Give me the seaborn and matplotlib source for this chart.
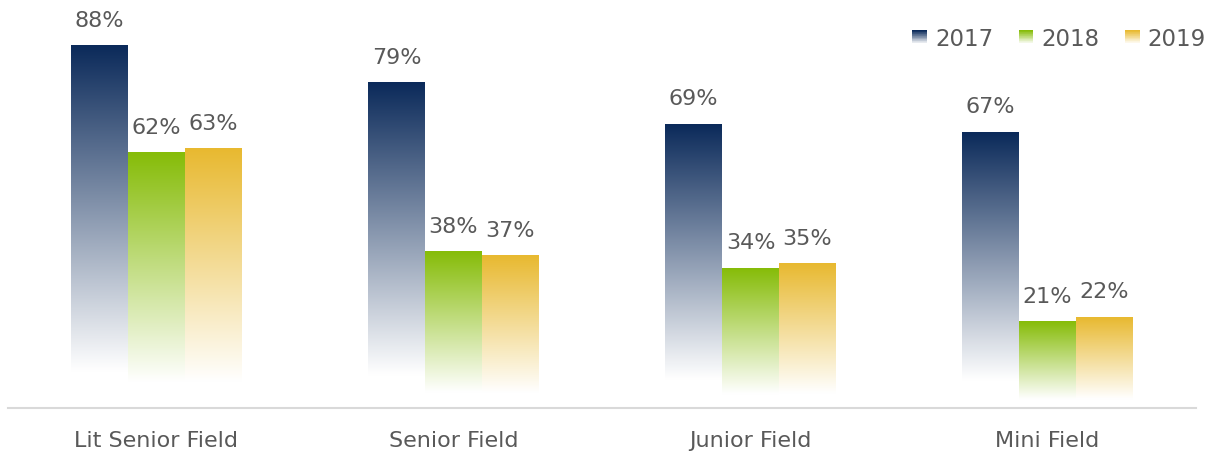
import numpy as np
import pandas as pd
import matplotlib
matplotlib.use("Agg")
import matplotlib.pyplot as plt
import seaborn as sns
from matplotlib.patches import Rectangle
from matplotlib.legend_handler import HandlerBase
from matplotlib.colors import to_rgb

categories = ["Lit Senior Field", "Senior Field", "Junior Field", "Mini Field"]
years = ["2017", "2018", "2019"]
values_2017 = [88, 79, 69, 67]
values_2018 = [62, 38, 34, 21]
values_2019 = [63, 37, 35, 22]
colors = ["#0b2a5a", "#86bc08", "#e8b930"]

df = pd.DataFrame({
    "category": categories * 3,
    "year": [y for y in years for _ in categories],
    "value": values_2017 + values_2018 + values_2019,
})

sns.set_theme(style="white")
plt.rcParams["font.family"] = ["DejaVu Sans"]

W, H = 1214, 456
fig = plt.figure(figsize=(W / 100, H / 100), dpi=100)
base_y = 409
px_per = 4.115
ax = fig.add_axes([8 / W, (H - base_y) / H, (1196 - 8) / W, base_y / H])

sns.barplot(data=df, x="category", y="value", hue="year", palette=colors,
            width=0.575, ax=ax, legend=False, saturation=1)


def gradient_img(color, n=256, fade=0.9):
    r, g, b = to_rgb(color)
    t = np.linspace(0, 1, n)  # 0 top -> 1 bottom
    a = np.clip(1 - t / fade, 0, 1)
    img = np.zeros((n, 1, 4))
    img[:, 0, 0] = r * a + (1 - a)
    img[:, 0, 1] = g * a + (1 - a)
    img[:, 0, 2] = b * a + (1 - a)
    img[:, 0, 3] = 1.0
    return img


label_color = "#595959"
for container, col in zip(ax.containers, colors):
    for bar in container:
        x0 = bar.get_x()
        w = bar.get_width()
        h = bar.get_height()
        bar.set_facecolor("none")
        bar.set_edgecolor("none")
        ax.imshow(gradient_img(col), extent=[x0, x0 + w, 0, h],
                  aspect="auto", zorder=2, interpolation="bilinear")
        ax.annotate(f"{int(round(h))}%", (x0 + w / 2, h), xytext=(0, 11.5),
                    textcoords="offset points", ha="center", va="bottom",
                    fontsize=16, color=label_color)

ax.set_xlim(-0.5, 3.5)
ax.set_ylim(0, base_y / px_per)

for s in ["top", "right", "left"]:
    ax.spines[s].set_visible(False)
ax.spines["bottom"].set_color("#d9d9d9")
ax.spines["bottom"].set_linewidth(1.5)
ax.set_yticks([])
ax.set_xlabel("")
ax.set_ylabel("")
ax.tick_params(axis="x", length=0, pad=16, labelsize=16, labelcolor=label_color)


class HandlerGradient(HandlerBase):
    def create_artists(self, legend, orig_handle, xdescent, ydescent, width,
                       height, fontsize, trans):
        n = 20
        arts = []
        img = gradient_img(orig_handle.get_facecolor(), n=n, fade=1.05)
        hh = height / n
        for i in range(n):
            c = img[i, 0, :3]
            r = Rectangle((-xdescent, -ydescent + height - (i + 1) * hh), width, hh,
                          facecolor=c, edgecolor="none", transform=trans)
            arts.append(r)
        return arts


handles = [Rectangle((0, 0), 1, 1, facecolor=c) for c in colors]
leg = fig.legend(handles, years, loc="upper right",
                 bbox_to_anchor=(1206 / W, 1 - 28 / H),
                 ncol=3, frameon=False, fontsize=16.5, labelcolor=label_color,
                 handler_map={Rectangle: HandlerGradient()},
                 handlelength=0.65, handleheight=0.5, handletextpad=0.35,
                 columnspacing=1.1, borderaxespad=0.0, borderpad=0.0)

fig.savefig("out.png", dpi=100)
